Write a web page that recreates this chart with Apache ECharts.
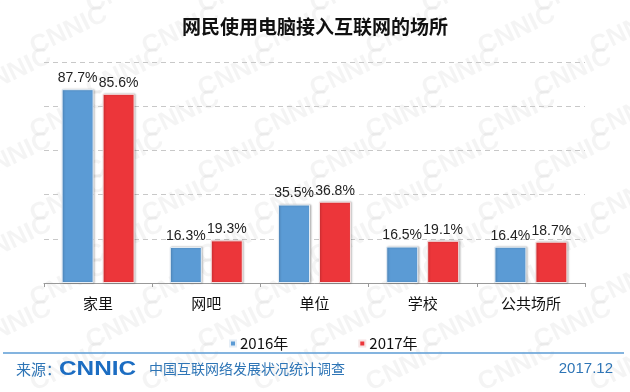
<!DOCTYPE html>
<html>
<head>
<meta charset="utf-8">
<script src="https://cdn.jsdelivr.net/npm/echarts@6/dist/echarts.min.js"></script>
<style>
html,body{margin:0;padding:0;background:#fff;}
#c{width:630px;height:392px;}
</style>
</head>
<body>
<div id="c"></div>
<script>
const categories = ['家里', '网吧', '单位', '学校', '公共场所'];
const series2016 = [87.7, 16.3, 35.5, 16.5, 16.4];
const series2017 = [85.6, 19.3, 36.8, 19.1, 18.7];
const seriesNames = ['2016年', '2017年'];
const titleText = '网民使用电脑接入互联网的场所';

const chart = echarts.init(document.getElementById('c'));

const wm = [];
for (let r = 0; r < 10; r++) {
  for (let c = 0; c < 7; c++) {
    wm.push({
      type: 'text', z: -10, silent: true,
      x: -30 + c * 112 + (r % 2) * 56, y: -5 + r * 42,
      rotation: Math.PI / 7,
      style: { text: 'CNNIC', fill: 'rgba(0,0,0,0.045)', font: 'bold 26px "Liberation Sans", Arial' }
    });
  }
}

const labelCfg = {
  show: true, position: 'top', distance: 4,
  formatter: p => p.value.toFixed(1) + '%',
  fontFamily: '"Liberation Sans", Arial', fontSize: 14, color: '#222'
};

chart.setOption({
  animation: false,
  title: {
    text: titleText, left: 'center', top: 12,
    textStyle: { fontFamily: '"Noto Sans CJK SC"', fontWeight: 'bold', fontSize: 19, color: '#111' }
  },
  legend: {
    data: seriesNames, left: 224, top: 331, icon: 'rect', itemWidth: 6, itemHeight: 6,
    itemGap: 70,
    textStyle: { fontFamily: '"Noto Sans CJK SC"', fontSize: 15, color: '#111', padding: [0, 0, 0, -1] }
  },
  grid: { left: 44, right: 45, top: 62, bottom: 109 },
  xAxis: {
    type: 'category', data: categories,
    axisLine: { lineStyle: { color: '#999', width: 1 } },
    axisTick: { show: true, length: 4, lineStyle: { color: '#999' } },
    axisLabel: { fontFamily: '"Noto Sans CJK SC"', fontSize: 15, color: '#111', margin: 13 }
  },
  yAxis: {
    type: 'value', min: 0, max: 100, interval: 20,
    axisLine: { show: false }, axisTick: { show: false }, axisLabel: { show: false },
    splitLine: { lineStyle: { color: '#c8c8c8', type: [5, 4], width: 1 } }
  },
  series: [
    {
      name: seriesNames[0], type: 'bar', data: series2016, barWidth: 32, barGap: '28%',
      itemStyle: { color: '#5B9BD5', borderColor: '#e6eef6', borderWidth: 1,
        shadowColor: 'rgba(0,0,0,0.25)', shadowBlur: 2, shadowOffsetX: 1, shadowOffsetY: 0 },
      label: labelCfg
    },
    {
      name: seriesNames[1], type: 'bar', data: series2017, barWidth: 32,
      itemStyle: { color: '#EC363A', borderColor: '#f6e4e4', borderWidth: 1,
        shadowColor: 'rgba(0,0,0,0.25)', shadowBlur: 2, shadowOffsetX: 1, shadowOffsetY: 0 },
      label: labelCfg
    }
  ],
  graphic: wm.concat([
    { type: 'line', silent: true, shape: { x1: 3, y1: 353, x2: 624, y2: 353 },
      style: { stroke: '#5B9BD5', lineWidth: 1.5 } },
    { type: 'text', x: 16, y: 369, silent: true,
      style: { text: '来源：', fill: '#2E75B6', font: '15px "Noto Sans CJK SC"', verticalAlign: 'middle' } },
    { type: 'text', x: 59, y: 369, scaleX: 1.16, silent: true,
      style: { text: 'CNNIC', fill: '#1C6DC2', font: 'bold 21px "Liberation Sans", Arial', verticalAlign: 'middle' } },
    { type: 'text', x: 149, y: 369, silent: true,
      style: { text: '中国互联网络发展状况统计调查', fill: '#2E75B6', font: '14px "Noto Sans CJK SC"', verticalAlign: 'middle' } },
    { type: 'text', x: 613, y: 369, silent: true,
      style: { text: '2017.12', fill: '#2E75B6', font: '15px "Liberation Sans", Arial', align: 'right', verticalAlign: 'middle' } }
  ])
});
</script>
</body>
</html>
